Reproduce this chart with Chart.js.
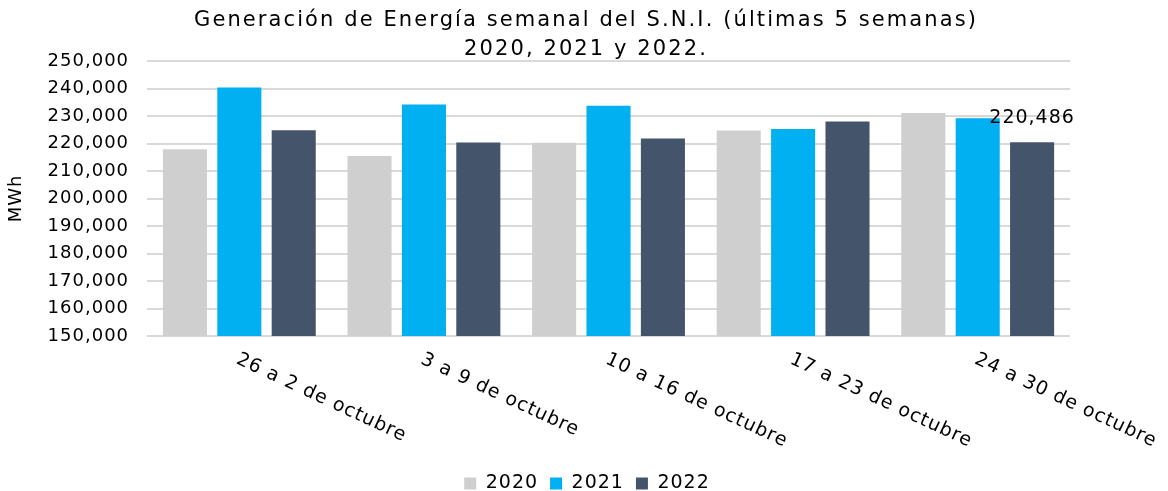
<!DOCTYPE html>
<html><head><meta charset="utf-8">
<script src="https://cdn.jsdelivr.net/npm/chart.js@4"></script>
<style>html,body{margin:0;padding:0;background:#fff}#wrap{width:1168px;height:491px}</style>
</head><body><div id="wrap"><canvas id="c"></canvas></div>
<script>
const categories = ["26 a 2 de octubre","3 a 9 de octubre","10 a 16 de octubre","17 a 23 de octubre","24 a 30 de octubre"];
const seriesNames = ["2020","2021","2022"];
const values2020 = [217900, 215500, 220300, 224700, 231100];
const values2021 = [240400, 234200, 233700, 225300, 229200];
const values2022 = [224800, 220400, 221800, 228000, 220486];
const titleLines = ["Generación de Energía semanal del S.N.I. (últimas 5 semanas)","2020, 2021 y 2022."];
const yTitle = "MWh";
const FONT = "'DejaVu Sans', sans-serif";
const SPACING = '1px';

const fmt = v => v.toLocaleString('en-US');

const spacing = {
  id:'spacing',
  beforeUpdate(chart){ chart.ctx.letterSpacing = SPACING; },
  beforeLayout(chart){ chart.ctx.letterSpacing = SPACING; },
  beforeDraw(chart){ chart.ctx.letterSpacing = SPACING; }
};
const titlePlugin = {
  id:'titlePlugin',
  afterDraw(chart){
    const ctx = chart.ctx;
    ctx.save();
    ctx.letterSpacing = '2.1px';
    ctx.font = "21px " + FONT;
    ctx.fillStyle = "#000";
    ctx.textAlign = "center";
    ctx.textBaseline = "middle";
    const cx = chart.width/2 + 2;
    ctx.fillText(titleLines[0], cx, 21);
    ctx.fillText(titleLines[1], cx, 50);
    ctx.restore();
  }
};
const rotatedLabels = {
  id:'rotatedLabels',
  afterDraw(chart){
    const ctx = chart.ctx, x = chart.scales.x;
    ctx.save();
    ctx.letterSpacing = SPACING;
    ctx.font = "19px " + FONT;
    ctx.fillStyle = "#000";
    ctx.textAlign = "left";
    ctx.textBaseline = "top";
    categories.forEach((c,i)=>{
      const px = x.getPixelForValue(i);
      ctx.save();
      ctx.translate(px+2, x.top+14);
      ctx.rotate(25*Math.PI/180);
      ctx.fillText(c,0,0);
      ctx.restore();
    });
    ctx.restore();
  }
};
const lastLabel = {
  id:'lastLabel',
  afterDatasetsDraw(chart){
    const meta = chart.getDatasetMeta(2);
    const el = meta.data[meta.data.length-1];
    const ctx = chart.ctx;
    ctx.save();
    ctx.letterSpacing = SPACING;
    ctx.font = "19px " + FONT;
    ctx.fillStyle = "#000";
    ctx.textAlign = "center";
    ctx.textBaseline = "middle";
    ctx.fillText(fmt(values2022[values2022.length-1]), el.x, el.y-24);
    ctx.restore();
  }
};

new Chart(document.getElementById('c'),{
  type:'bar',
  data:{labels:categories,datasets:[
    {label:seriesNames[0],data:values2020,backgroundColor:'#d0cfd0'},
    {label:seriesNames[1],data:values2021,backgroundColor:'#00b0f0'},
    {label:seriesNames[2],data:values2022,backgroundColor:'#44546a'}
  ]},
  options:{
    responsive:true,maintainAspectRatio:false,animation:false,
    datasets:{bar:{categoryPercentage:0.884,barPercentage:0.81}},
    layout:{padding:{left:6,right:0,top:61,bottom:-12}},
    plugins:{
      title:{display:false},
      legend:{position:'bottom',labels:{color:'#000',font:{family:FONT,size:19},boxWidth:12,boxHeight:12,padding:12}},
      tooltip:{enabled:false}
    },
    scales:{
      x:{grid:{display:false},border:{display:false},ticks:{display:false},afterFit(s){s.height=126;}},
      y:{min:150000,max:250000,
         ticks:{stepSize:10000,color:'#000',font:{family:FONT,size:18},padding:18,callback:v=>fmt(v)},
         grid:{color:'#d9d9d9',lineWidth:2,drawTicks:false},border:{display:false},
         title:{display:true,text:yTitle,color:'#000',font:{family:FONT,size:18},padding:{top:0,bottom:2}}},
      yR:{position:'right',display:true,grid:{display:false},border:{display:false},ticks:{display:false},afterFit(s){s.width=98;}}
    }
  },
  plugins:[spacing,titlePlugin,rotatedLabels,lastLabel]
});
</script></body></html>
